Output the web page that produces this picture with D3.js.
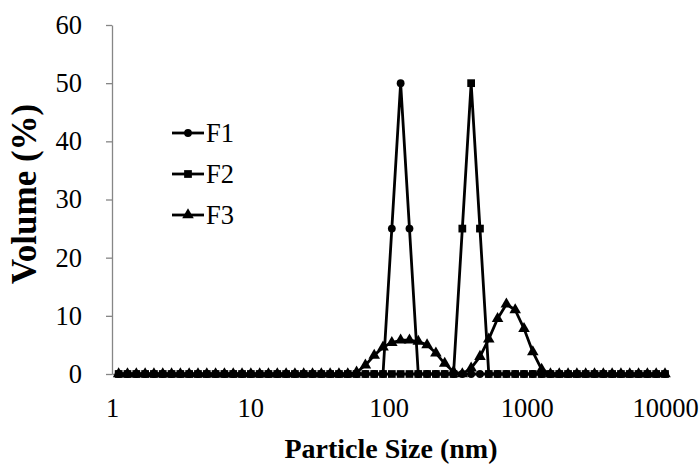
<!DOCTYPE html>
<html>
<head>
<meta charset="utf-8">
<script src="https://cdn.jsdelivr.net/npm/d3@7"></script>
<style>
  html, body { margin: 0; padding: 0; background: #fff; }
  text { font-family: "Liberation Serif", "Times New Roman", serif; fill: #000; }
</style>
</head>
<body>
<svg id="chart" width="700" height="464"></svg>
<script>
// Particle size bins (nm)
const sizes = [1.117,1.294,1.499,1.736,2.010,2.328,2.696,3.122,3.615,4.187,
  4.849,5.615,6.503,7.531,8.721,10.10,11.70,13.54,15.69,18.17,
  21.04,24.36,28.21,32.67,37.84,43.82,50.75,58.77,68.06,78.82,
  91.28,105.7,122.4,141.8,164.2,190.1,220.2,255.0,295.3,342.0,
  396.1,458.7,531.2,615.1,712.4,825.0,955.4,1106,1281,1484,
  1718,1990,2305,2669,3091,3580,4145,4801,5560,6439,
  7456,8635,10000];

// Volume (%) per series
const f1 = [0,0,0,0,0,0,0,0,0,0, 0,0,0,0,0,0,0,0,0,0, 0,0,0,0,0,0,0,0,0,0,
  0,25,50,25,0,0,0,0,0,0, 0,0,0,0,0,0,0,0,0,0, 0,0,0,0,0,0,0,0,0,0, 0,0,0];
const f2 = [0,0,0,0,0,0,0,0,0,0, 0,0,0,0,0,0,0,0,0,0, 0,0,0,0,0,0,0,0,0,0,
  0,0,0,0,0,0,0,0,0,25, 50,25,0,0,0,0,0,0,0,0, 0,0,0,0,0,0,0,0,0,0, 0,0,0];
const f3 = [0,0,0,0,0,0,0,0,0,0, 0,0,0,0,0,0,0,0,0,0, 0,0,0,0,0,0,0,0.3,1.5,3.2,
  4.6,5.4,5.8,5.8,5.6,5.0,3.6,1.8,0.4,0, 1.0,3.0,6.0,9.5,12.0,11.0,7.8,3.8,0.8,0, 0,0,0,0,0,0,0,0,0,0, 0,0,0];

const seriesNames = ["F1", "F2", "F3"];
const seriesValues = [f1, f2, f3];
const seriesMarkers = ["circle", "square", "triangle"];

const xTicks = [1, 10, 100, 1000, 10000];
const yTicks = [0, 10, 20, 30, 40, 50, 60];

const svg = d3.select("#chart");
const x = d3.scaleLog().domain([1, 10000]).range([112, 665]);
const y = d3.scaleLinear().domain([0, 60]).range([374, 25]);
const axisColor = "#868686";

// Y axis
const yAxis = svg.append("g").attr("transform", "translate(112,0)")
  .call(d3.axisLeft(y).tickValues(yTicks).tickSize(6).tickSizeOuter(0).tickPadding(24));
yAxis.select(".domain").attr("stroke", axisColor).attr("stroke-width", 1.3);
yAxis.selectAll(".tick line").attr("stroke", axisColor).attr("stroke-width", 1.3);
yAxis.selectAll(".tick text").attr("font-size", "26.5px")
  .style("font-family", "'Liberation Serif', serif").attr("fill", "#000");

// X axis
const xAxis = svg.append("g").attr("transform", "translate(0,374)")
  .call(d3.axisBottom(x).tickValues(xTicks).tickFormat(d3.format("d")).tickSize(0).tickPadding(24));
xAxis.select(".domain").attr("stroke", axisColor).attr("stroke-width", 1.3);
xAxis.selectAll(".tick text").attr("font-size", "26.5px")
  .style("font-family", "'Liberation Serif', serif").attr("fill", "#000");

// Axis titles
svg.append("text").attr("x", 391).attr("y", 458).attr("text-anchor", "middle")
  .attr("font-size", "28px").attr("font-weight", "bold").text("Particle Size (nm)");
svg.append("text").attr("transform", "translate(36,194) rotate(-90)").attr("text-anchor", "middle")
  .attr("font-size", "35px").attr("font-weight", "bold").text("Volume (%)");

// Marker symbols
const symbolFor = {
  circle: d3.symbol().type(d3.symbolCircle).size(48),
  square: d3.symbol().type(d3.symbolSquare).size(60),
  triangle: d3.symbol().type(d3.symbolTriangle).size(58)
};

const line = d3.line().x(d => x(d[0])).y(d => y(d[1]));

seriesValues.forEach((vals, i) => {
  const pts = sizes.map((s, j) => [s, vals[j]]);
  const g = svg.append("g");
  g.append("path").datum(pts).attr("d", line)
    .attr("fill", "none").attr("stroke", "#000").attr("stroke-width", 2.8)
    .attr("stroke-linejoin", "round");
  g.selectAll("path.m").data(pts).enter().append("path").attr("class", "m")
    .attr("d", symbolFor[seriesMarkers[i]])
    .attr("transform", d => `translate(${x(d[0])},${y(d[1])})`)
    .attr("fill", "#000");
});

// Legend
const legendY = [133, 174, 215];
seriesNames.forEach((name, i) => {
  const g = svg.append("g").attr("transform", `translate(0,${legendY[i]})`);
  g.append("line").attr("x1", 172).attr("x2", 204).attr("y1", 0).attr("y2", 0)
    .attr("stroke", "#000").attr("stroke-width", 2.8);
  g.append("path").attr("d", symbolFor[seriesMarkers[i]]).attr("transform", "translate(188,0)")
    .attr("fill", "#000");
  g.append("text").attr("x", 206).attr("y", 0).attr("dy", "0.35em")
    .attr("font-size", "26.5px").text(name);
});
</script>
</body>
</html>
